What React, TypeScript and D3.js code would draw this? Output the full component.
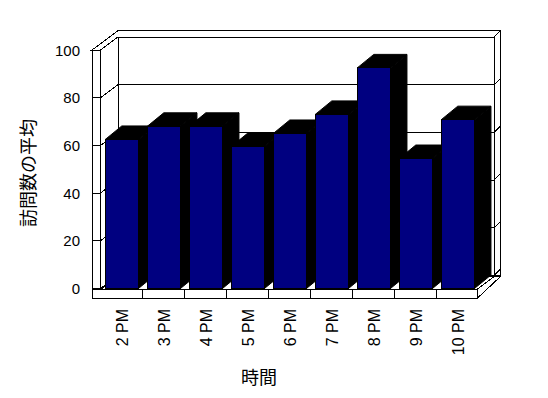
import React from "react";
import * as d3 from "d3";

const categories = ["2 PM", "3 PM", "4 PM", "5 PM", "6 PM", "7 PM", "8 PM", "9 PM", "10 PM"];
const values = [62.5, 68, 68, 59.5, 65, 73, 92.5, 54.5, 70.8];
const yTicks = [0, 20, 40, 60, 80, 100];
const yTitle = "訪問数の平均";
const xTitle = "時間";

const W = 548;
const H = 398;

// layout constants
const wallOuterX = 92;
const plotLeft = 100.5;
const plotRight = 478.5;
const floorFrontRight = 477;
const yTop = 50;
const yBase = 288.5;
const floorTop = 289.5;
const floorBottom = 298.5;
const D = { x: 17.5, y: -13 }; // depth to back wall
const T = { x: 6.5, y: -6.3 }; // back wall thickness
const B = { x: 16.5, y: -13.5 }; // bar depth
const backLeft = plotLeft + D.x;
const backRight = 494;

const latin = "'Liberation Sans', Arial, sans-serif";
const cjk = "'Noto Sans CJK JP', 'Noto Sans CJK SC', sans-serif";

export default function App() {
  const x = d3.scaleBand<string>().domain(categories).range([plotLeft, plotRight]).paddingInner(0).paddingOuter(0);
  const y = d3.scaleLinear().domain([0, 100]).range([yBase, yTop]);
  const step = x.step();
  const barOff = step * 0.114;
  const barW = step * 0.79;

  const line = (x1: number, y1: number, x2: number, y2: number, key: string) => (
    <line key={key} x1={x1} y1={y1} x2={x2} y2={y2} stroke="#000" strokeWidth={1} />
  );

  const poly = (pts: [number, number][]) => pts.map((p) => p.join(",")).join(" ");

  const backTopY = y(100) + D.y;
  const backBottomY = y(0) + D.y;

  return (
    <svg width={W} height={H} style={{ position: "absolute", left: 0, top: 0, background: "#fff" }} shapeRendering="crispEdges">
      <rect x={0} y={0} width={W} height={H} fill="#fff" />
      {/* back wall top face */}
      <polygon
        points={poly([
          [wallOuterX, yTop],
          [backLeft - 3 + T.x - 3.5, backTopY + T.y],
          [backRight + T.x, backTopY + T.y],
          [backRight, backTopY],
          [backLeft, backTopY],
          [plotLeft, yTop],
        ])}
        fill="#fff"
        stroke="#000"
      />
      {/* back wall front face */}
      <rect x={backLeft} y={backTopY} width={backRight - backLeft} height={backBottomY - backTopY} fill="#fff" stroke="#000" />
      {/* back wall right thickness */}
      <polygon
        points={poly([
          [backRight, backTopY],
          [backRight + T.x, backTopY + T.y],
          [backRight + T.x, backBottomY],
          [backRight, backBottomY],
        ])}
        fill="#fff"
        stroke="#000"
      />
      {/* left wall front face */}
      <rect x={wallOuterX} y={yTop} width={plotLeft - wallOuterX} height={floorBottom - yTop} fill="#fff" stroke="#000" />
      {/* gridlines */}
      {yTicks.map((t) => {
        const yy = y(t);
        return (
          <g key={"g" + t}>
            {line(wallOuterX, yy, plotLeft, yy, "a")}
            {line(plotLeft, yy, backLeft, yy + D.y, "b")}
            {line(backLeft, yy + D.y, backRight, yy + D.y, "c")}
            {line(backRight, yy + D.y, backRight + T.x, yy + D.y + T.y, "d")}
          </g>
        );
      })}
      {/* floor top face */}
      <polygon
        points={poly([
          [plotLeft, floorTop],
          [backLeft, backBottomY + 1],
          [backRight, backBottomY + 1],
          [floorFrontRight, floorTop],
        ])}
        fill="#fff"
        stroke="#000"
      />
      {/* floor right side */}
      <polygon
        points={poly([
          [floorFrontRight, floorTop],
          [backRight, backBottomY + 1],
          [backRight + T.x, backBottomY + 1],
          [floorFrontRight, floorBottom],
        ])}
        fill="#fff"
        stroke="#000"
      />
      {/* floor front face */}
      <rect x={wallOuterX} y={floorTop} width={floorFrontRight - wallOuterX} height={floorBottom - floorTop} fill="#fff" stroke="#000" />
      {categories.slice(1).map((c) => line(x(c)!, floorTop, x(c)!, floorBottom, "ft" + c))}
      {/* bars */}
      {categories.map((c, i) => {
        const x0 = x(c)! + barOff;
        const x1 = x0 + barW;
        const yt = y(values[i]);
        const y0 = y(0);
        return (
          <g key={"bar" + c}>
            <polygon
              points={poly([
                [x1, yt],
                [x1 + B.x, yt + B.y],
                [x1 + B.x, y0 + B.y],
                [x1, y0],
              ])}
              fill="#000"
              stroke="#000"
              shapeRendering="auto"
            />
            <polygon
              points={poly([
                [x0, yt],
                [x0 + B.x, yt + B.y],
                [x1 + B.x, yt + B.y],
                [x1, yt],
              ])}
              fill="#000"
              stroke="#000"
              shapeRendering="auto"
            />
            <rect x={x0} y={yt} width={barW} height={y0 - yt} fill="#000080" stroke="#000" />
          </g>
        );
      })}
      {/* y tick labels */}
      {yTicks.map((t) => (
        <text key={"yl" + t} x={80} y={y(t)} textAnchor="end" dominantBaseline="central" fontFamily={latin} fontSize={15} fill="#000">
          {t}
        </text>
      ))}
      {/* x tick labels */}
      {categories.map((c) => (
        <text
          key={"xl" + c}
          transform={`translate(${x(c)! + step / 2 + 1},309) rotate(-90)`}
          textAnchor="end"
          dominantBaseline="central"
          fontFamily={latin}
          fontSize={16}
          fill="#000"
        >
          {c}
        </text>
      ))}
      <text transform="translate(27,173) rotate(-90)" textAnchor="middle" dominantBaseline="central" fontFamily={cjk} fontSize={18} fill="#000">
        {yTitle}
      </text>
      <text x={259} y={376} textAnchor="middle" dominantBaseline="central" fontFamily={cjk} fontSize={18} fill="#000">
        {xTitle}
      </text>
    </svg>
  );
}
